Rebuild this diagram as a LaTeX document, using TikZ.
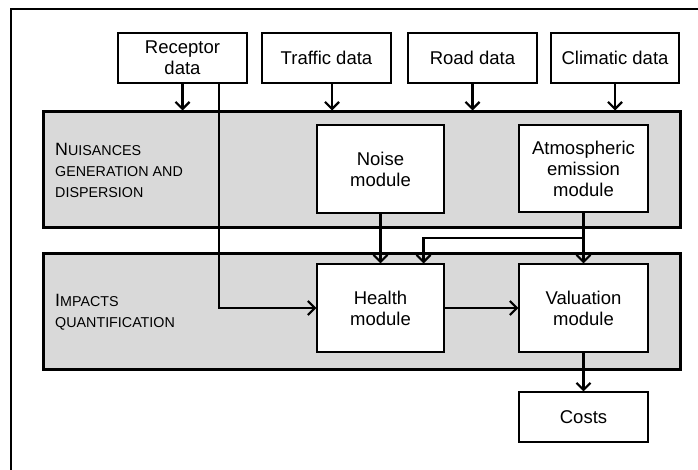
\documentclass[tikz,border=0pt]{standalone}
\usepackage{fontspec}
\setmainfont{Liberation Sans}
\usetikzlibrary{arrows.meta}
\definecolor{groupgray}{HTML}{D9D9D9}
\tikzset{
  x=1pt, y=-1pt,
  txt/.style={font=\fontsize{18.5}{21}\selectfont, align=center},
  box/.style={txt, draw=black, line width=1.1pt, fill=white, inner sep=0pt},
  group/.style={draw=black, line width=3pt, fill=groupgray, inner sep=0pt},
  arr/.style={line width=2.2pt, -{Straight Barb[length=7pt,width=14pt,line width=2.2pt]}},
  lbl/.style={anchor=base west, align=left, inner sep=0pt, font=\fontsize{14.3}{20.8}\selectfont}
}
\newcommand{\bigsc}[1]{{\fontsize{17.8}{20.8}\selectfont #1}}
\begin{document}
\begin{tikzpicture}
\useasboundingbox (0,0) rectangle (698,470);
% frame edges on the left and top
\draw[line width=2pt] (11,470) -- (11,9) -- (698,9);

% layer backgrounds
\node[group, minimum width=637pt, minimum height=116pt] (nuis) at (361.5,170) {};
\node[group, minimum width=637pt, minimum height=116pt] (imp) at (361.5,311) {};

% layer titles, set in small capitals (anchored on the last line)
\node[lbl] (nuislbl) at (55,197.3) {\bigsc{N}UISANCES\\GENERATION AND\\DISPERSION};
\node[lbl] (implbl) at (55,327.7) {\bigsc{I}MPACTS\\QUANTIFICATION};

% input data
\node[box, minimum width=129pt, minimum height=50pt] (rec)  at (182.5,58) {Receptor\\data};
\node[box, minimum width=129pt, minimum height=50pt] (traf) at (326.5,58) {Traffic data};
\node[box, minimum width=129pt, minimum height=50pt] (road) at (472.5,58) {Road data};
\node[box, minimum width=128pt, minimum height=50pt] (clim) at (615,58) {Climatic data};

% modules
\node[box, minimum width=127pt, minimum height=88pt] (noise)  at (380.5,169) {Noise\\module};
\node[box, minimum width=129pt, minimum height=87pt] (atm)    at (583.5,168.5) {Atmospheric\\emission\\module};
\node[box, minimum width=127pt, minimum height=88pt] (health) at (380.5,308) {Health\\module};
\node[box, minimum width=129pt, minimum height=88pt] (val)    at (583.5,308) {Valuation\\module};
\node[box, minimum width=129pt, minimum height=50pt] (costs)  at (583.5,417) {Costs};

% data feeding the nuisances layer
\draw[arr] (rec.south) -- (rec.south |- nuis.north);
\draw[arr] ([xshift=5.5pt]traf.south) -- ([xshift=5.5pt]traf.south |- nuis.north);
\draw[arr] (road.south) -- (road.south |- nuis.north);
\draw[arr] (clim.south) -- (clim.south |- nuis.north);

% receptor data straight to the health module
\draw[arr] ([xshift=36.5pt]rec.south) |- (health.west);

% module links
\coordinate (branch) at (583.5,238);
\draw[arr] (noise.south) -- (health.north);
\draw[arr] (atm.south) -- (val.north);
\draw[arr] (atm.south |- branch) -| ([xshift=-21pt]health.north east);
\draw[arr] (health.east) -- (val.west);
\draw[arr] (val.south) -- (costs.north);
\end{tikzpicture}
\end{document}
